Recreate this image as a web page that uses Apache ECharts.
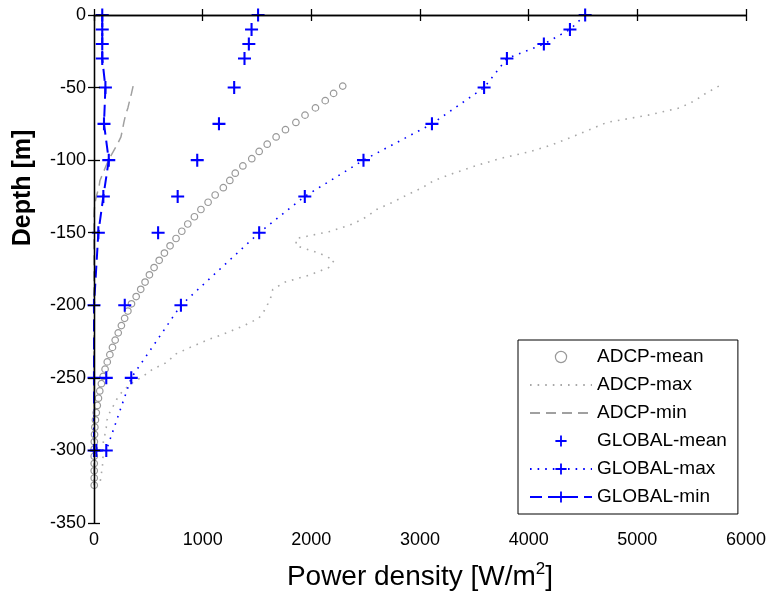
<!DOCTYPE html>
<html><head><meta charset="utf-8">
<script src="https://cdn.jsdelivr.net/npm/echarts@6/dist/echarts.min.js"></script>
<style>html,body{margin:0;padding:0;background:#fff}#c{width:769px;height:598px}</style>
</head><body><div id="c"></div>
<script>
// ADCP profiles (5 m bins)
const adcpDepth = [-49,-54,-59,-64,-69,-74,-79,-84,-89,-94,-99,-104,-109,-114,-119,-124,-129,-134,-139,-144,-149,-154,-159,-164,-169,-174,-179,-184,-189,-194,-199,-204,-209,-214,-219,-224,-229,-234,-239,-244,-249,-254,-259,-264,-269,-274,-279,-284,-289,-294,-299,-304,-309,-314,-319,-324];
const adcpMean = [2289,2205,2128,2038,1942,1858,1762,1676,1594,1520,1452,1370,1300,1250,1190,1115,1050,984,924,863,808,755,700,648,600,553,510,470,430,388,345,312,282,252,223,195,170,146,122,102,84,68,53,41,30,21,13,8,5,3,2,2,2,2,2,2];
const adcpMax = [5750,5630,5530,5390,5100,4720,4560,4400,4230,4020,3730,3510,3310,3130,3020,2880,2750,2600,2510,2380,2180,1860,1860,2070,2210,2160,1990,1760,1645,1630,1600,1565,1515,1380,1220,1040,885,740,680,540,450,340,265,215,180,144,120,113,100,86,84,83,80,72,62,52];
const adcpMin = [360,345,328,312,290,275,262,248,215,178,140,110,83,55,45,25,10,3,0,0,0,0,0,0,0,0,0,0,0,0,0,0,0,0,0,0,0,0,0,0,0,0,0,0,0,0,0,0,0,0,0,0,0,0,0,0];
// GLOBAL model profiles
const globalDepth = [0,-10,-20,-30,-50,-75,-100,-125,-150,-200,-250,-300];
const globalMean = [1510,1450,1425,1385,1290,1150,950,770,590,283,113,22];
const globalMax = [4520,4380,4140,3800,3590,3110,2480,1940,1520,800,343,113];
const globalMin = [76,76,76,76,105,92,136,86,40,0,0,0];
const seriesNames = ['ADCP-mean','ADCP-max','ADCP-min','GLOBAL-mean','GLOBAL-max','GLOBAL-min'];

const pair = (xs, ys) => xs.map((x, i) => [x, ys[i]]);
const FONT = '"Liberation Sans", Arial, sans-serif';
const PLUS = 'path://M42,0h16v42h42v16h-42v42h-16v-42h-42v-16h42z';
const BLUE = '#0000ff';
const axisLineStyle = {color:'#000', width:1.3};
const plain = v => String(v);

const chart = echarts.init(document.getElementById('c'));
chart.setOption({
  animation: false,
  backgroundColor: '#fff',
  grid: {left:94, right:23, top:15, bottom:75, containLabel:false},
  xAxis: [
    {type:'value', min:0, max:6000, interval:1000, position:'bottom', z:10,
     axisLine:{lineStyle:axisLineStyle}, axisTick:{inside:true, length:6, lineStyle:axisLineStyle},
     axisLabel:{color:'#000', fontSize:18, fontFamily:FONT, margin:8, formatter:plain}, splitLine:{show:false},
     name:'{a|Power density [W/m}{s|2}{a|]}', nameLocation:'middle', nameGap:38,
     nameTextStyle:{rich:{a:{fontSize:28, fontFamily:FONT, color:'#000', lineHeight:32},
                          s:{fontSize:17, fontFamily:FONT, color:'#000', verticalAlign:'top', lineHeight:32}}}},
    {type:'value', min:0, max:6000, interval:1000, position:'top', z:10,
     axisLine:{lineStyle:axisLineStyle}, axisTick:{inside:true, length:6, lineStyle:axisLineStyle},
     axisLabel:{show:false}, splitLine:{show:false}}
  ],
  yAxis: [
    {type:'value', min:-350, max:0, interval:50, position:'left', z:10,
     axisLine:{lineStyle:axisLineStyle}, axisTick:{inside:true, length:6, lineStyle:axisLineStyle},
     axisLabel:{color:'#000', fontSize:18, fontFamily:FONT, margin:8, formatter:plain}, splitLine:{show:false},
     name:'Depth [m]', nameLocation:'middle', nameGap:58,
     nameTextStyle:{fontSize:25, fontWeight:'bold', fontFamily:FONT, color:'#000', padding:[0,0,0,162]}},
    {type:'value', min:-350, max:0, interval:50, position:'right', z:10,
     axisLine:{lineStyle:axisLineStyle}, axisTick:{inside:true, length:6, lineStyle:axisLineStyle},
     axisLabel:{show:false}, splitLine:{show:false}}
  ],
  legend: {
    left:518, top:340, orient:'vertical', itemWidth:62, itemHeight:14, itemGap:8,
    padding:[7,11,7,11], borderColor:'#000', borderWidth:1, backgroundColor:'#fff',
    textStyle:{fontSize:19, fontFamily:FONT, color:'#000', lineHeight:20},
    data: [
      {name:seriesNames[0], itemStyle:{borderWidth:1.2}},
      {name:seriesNames[1], itemStyle:{opacity:0}},
      {name:seriesNames[2], itemStyle:{opacity:0}},
      {name:seriesNames[3]},
      {name:seriesNames[4]},
      {name:seriesNames[5]}
    ]
  },
  series: [
    {name:seriesNames[0], type:'line', data:pair(adcpMean, adcpDepth), symbol:'circle', symbolSize:6.5,
     showSymbol:true, showAllSymbol:true, lineStyle:{opacity:0},
     itemStyle:{color:'rgba(0,0,0,0)', borderColor:'#999', borderWidth:1.2}},
    {name:seriesNames[1], type:'line', data:pair(adcpMax, adcpDepth), symbol:'none',
     lineStyle:{color:'#a8a8a8', width:1.6, type:[1.6,6]}, itemStyle:{color:'#a8a8a8'}},
    {name:seriesNames[2], type:'line', data:pair(adcpMin, adcpDepth), symbol:'none',
     lineStyle:{color:'#a0a0a0', width:1.5, type:[10,6]}, itemStyle:{color:'#a0a0a0'}},
    {name:seriesNames[3], type:'line', data:pair(globalMean, globalDepth), symbol:PLUS, symbolSize:13,
     showAllSymbol:true, lineStyle:{opacity:0}, itemStyle:{color:BLUE}},
    {name:seriesNames[4], type:'line', data:pair(globalMax, globalDepth), symbol:PLUS, symbolSize:13,
     showAllSymbol:true, lineStyle:{color:BLUE, width:1.6, type:[1.6,6]}, itemStyle:{color:BLUE}},
    {name:seriesNames[5], type:'line', data:pair(globalMin, globalDepth), symbol:PLUS, symbolSize:13,
     showAllSymbol:true, lineStyle:{color:BLUE, width:2, type:[12,6]}, itemStyle:{color:BLUE}}
  ]
});
</script></body></html>
